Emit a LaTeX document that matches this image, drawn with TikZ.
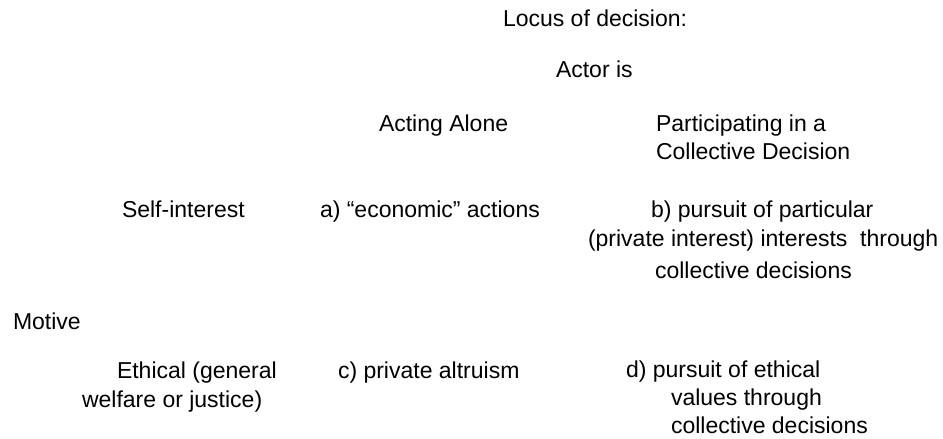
\documentclass[tikz,border=0pt]{standalone}
\usepackage{fontspec}
\setmainfont{Liberation Sans}
\begin{document}
\begin{tikzpicture}[x=1pt,y=-1pt,
  txt/.style={anchor=base west,inner sep=0pt,outer sep=0pt,text=black,font=\fontsize{23}{28}\selectfont}]
\useasboundingbox (0,0) rectangle (943,439);
\node[txt] (locus) at (503,27) {Locus of decision:};
\node[txt] (actor) at (556,77) {Actor is};
\node[txt] (alone) at (379,131) {Acting Alone};
\node[txt] (part1) at (656,131) {Participating in a};
\node[txt] (part2) at (656,159) {Collective Decision};
\node[txt] (self) at (122,217) {Self-interest};
\node[txt] (a) at (320,217) {a) “economic” actions};
\node[txt] (b1) at (651,217) {b) pursuit of particular};
\node[txt] (b2) at (588,246) {(private interest) interests\ \ through};
\node[txt] (b3) at (655,278) {collective decisions};
\node[txt] (motive) at (13,329) {Motive};
\node[txt] (eth1) at (117,378) {Ethical (general};
\node[txt] (eth2) at (82,407) {welfare or justice)};
\node[txt] (c) at (338,378) {c) private altruism};
\node[txt] (d1) at (626,377) {d) pursuit of ethical};
\node[txt] (d2) at (671,405) {values through};
\node[txt] (d3) at (671,433) {collective decisions};
\end{tikzpicture}
\end{document}
